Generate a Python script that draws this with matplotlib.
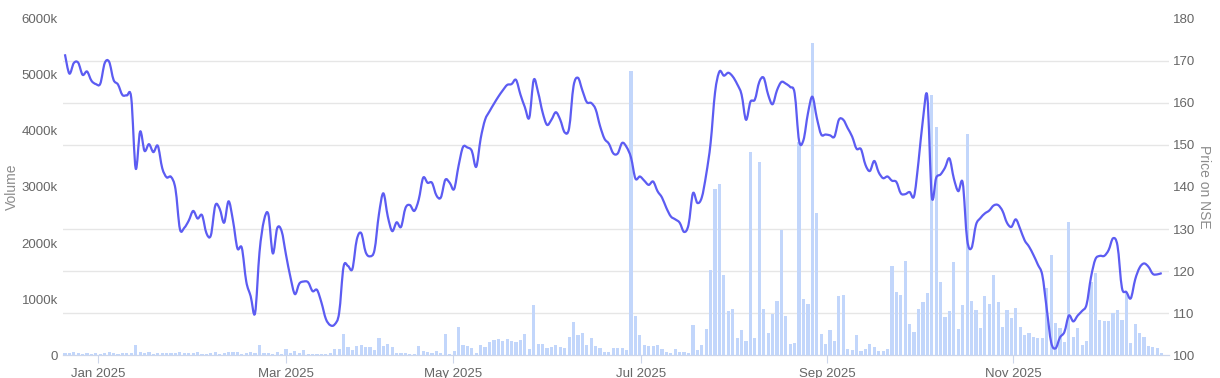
import matplotlib.pyplot as plt
import numpy as np
from matplotlib.path import Path
from matplotlib.patches import PathPatch

# daily price on NSE (one value per trading day, Dec 2024 - Dec 2025)
price = [
    171.6, 167.0, 169.5, 169.6, 166.7, 167.5, 165.3, 164.5, 164.6, 169.5,
    169.8, 165.5, 164.4, 161.9, 161.8, 161.2, 144.4, 153.2, 148.6, 150.2,
    148.3, 149.8, 144.5, 142.3, 142.4, 139.5, 130.0, 130.3, 132.0, 134.3,
    132.5, 133.3,
    129.0, 128.5, 135.6, 134.8, 131.5, 136.6, 132.0, 125.4, 125.5, 117.5,
    114.0, 110.0, 124.5, 132.0, 133.5, 124.2, 130.2, 129.5, 123.8, 118.5,
    114.5, 117.0, 117.5, 117.3, 115.2, 115.5, 112.5, 108.6, 107.1, 107.3,
    110.0, 121.0, 121.2, 120.5, 127.5, 129.0, 124.5, 123.5, 125.0, 133.5,
    138.5, 133.0, 129.5, 131.6, 130.5, 135.0, 135.7, 134.3, 137.0, 142.2,
    141.0, 141.0, 138.0, 137.5, 141.7, 141.0, 139.5, 145.0, 149.5, 149.4,
    148.6, 144.8, 151.5,
    156.0, 158.0, 159.8, 161.5, 163.0, 164.3, 164.5, 165.5, 162.0, 159.0,
    156.5, 165.5, 162.5, 157.8, 154.8, 156.0, 157.8, 156.0, 153.0, 154.0,
    164.0, 166.0, 163.0, 160.2, 160.0, 158.5, 154.5, 151.5, 150.3, 148.0,
    148.0,
    150.5, 149.5, 147.0, 142.0, 142.5, 141.5, 140.5, 141.3, 139.0, 137.5,
    135.0, 133.0, 132.3, 131.5, 129.3, 131.0, 138.5, 136.2, 137.5, 143.0,
    150.5, 162.5, 167.5, 166.5, 167.2, 166.3, 164.5, 162.0, 156.0, 160.3,
    160.8, 165.0,
    166.0, 162.0, 159.7, 163.0, 165.0, 164.6, 163.8, 162.3, 151.0, 151.2,
    157.5, 161.5, 156.5, 152.5, 152.5, 152.3, 152.0, 156.0, 156.0, 154.0,
    152.0, 149.1, 149.0, 145.3, 143.8, 146.2, 143.5, 142.1, 142.5, 141.5,
    141.2, 138.5,
    138.3, 138.8, 137.8, 146.0, 156.0, 161.5, 137.8, 142.2, 143.0, 144.6,
    146.8, 142.0, 139.0, 141.0, 127.5, 125.5, 131.0, 132.6, 133.7, 134.4,
    135.6, 135.7, 134.3, 131.5, 130.5, 132.3, 130.0, 127.3, 125.8, 123.8,
    121.5,
    119.0, 111.0, 103.0, 101.6, 104.2, 105.5, 109.4, 108.0, 109.4, 110.5,
    112.0, 118.5, 122.8, 123.6, 123.6, 125.0, 127.8, 126.0, 116.0, 115.0,
    113.5, 118.0, 120.8, 121.8, 121.0, 119.3, 119.2, 119.5,
]

# daily volume in thousands
volume = [
    30, 42, 54, 30, 24, 30, 24, 30, 24, 30,
    54, 42, 18, 42, 30, 30, 179, 54, 42, 48,
    18, 42, 30, 30, 42, 30, 48, 30, 42, 42,
    48, 12, 18, 30, 48, 18, 30, 48, 48, 60,
    18, 42, 48, 42, 179, 30, 30, 18, 60, 18,
    101, 30, 71, 42, 89, 18, 18, 12, 18, 18,
    30, 101, 101, 369, 149, 89, 161, 179, 149, 149,
    89, 298, 161, 196, 137, 30,
    42, 42, 18, 18, 167, 71, 60, 42, 71, 42,
    375, 18, 77, 506, 173, 167, 125, 30, 173, 137,
    226, 268, 286, 256, 280, 256, 238, 268, 375, 101,
    893, 196, 196, 125, 149, 179, 149, 131, 327, 589,
    357, 399, 179, 310, 161, 119, 48, 48, 119, 119,
    119, 89, 5071, 696, 357, 179, 167, 167, 185, 101,
    60, 42, 101, 54, 54, 42, 536, 89, 173, 458,
    1518, 2964, 3053, 1429, 792, 815, 298, 446, 250, 3625,
    298, 3452, 827, 387, 732, 958, 2232, 696, 196, 220,
    3809, 994, 905, 5565, 2530,
    375, 196, 446, 256, 1054, 1077, 101, 89, 357, 77,
    107, 190, 137, 71, 71, 101, 1589, 1125, 1071, 1678,
    554, 417, 815, 946, 1101, 4643, 4077, 1298, 673, 792,
    1667, 458, 893, 3940, 970, 804, 488, 1054, 905, 1423,
    946, 506, 804, 667, 833, 494, 357, 387, 327, 298,
    310, 1190, 1786, 565, 476, 238, 2381, 327, 476, 179,
    256, 1310, 1458, 625, 607, 607, 744, 804, 625, 1131,
    208, 554, 399, 315, 167, 137, 131, 30,
]

month_labels = ['Jan 2025', 'Mar 2025', 'May 2025', 'Jul 2025', 'Sep 2025', 'Nov 2025']
month_pos = [7.5, 50.0, 87.8, 130.3, 172.3, 214.4]  # trading-day index of month start

plt.rcParams['font.family'] = ['Liberation Sans', 'DejaVu Sans']

x = np.arange(len(price))
y = np.array(price)

fig = plt.figure(figsize=(12.2, 3.78), dpi=100)
ax1 = fig.add_axes([0.0514, 0.0608, 0.907, 0.889])
ax2 = ax1.twinx()

# volume bars
ax1.bar(x, volume, width=0.72, color='#c2d6fb', zorder=2)
ax1.set_ylim(0, 6000)
ax1.set_xlim(-0.5, 249.7)
ax1.set_yticks(np.arange(0, 6001, 1000))
ax1.set_yticklabels(['0'] + ['%dk' % v for v in range(1000, 6001, 1000)])
ax1.set_yticks(np.arange(0, 6001, 750), minor=True)
ax1.yaxis.grid(True, which='minor', color='#e6e6e6', linewidth=1)
ax1.set_axisbelow(True)
ax1.tick_params(axis='y', which='both', length=0, labelsize=9.5, labelcolor='#666666')
ax1.set_ylabel('Volume', fontsize=10, color='#8c8c8c', va='center', ha='center')
ax1.yaxis.set_label_coords(-0.0455, 0.5)

ax1.set_xticks(month_pos)
ax1.set_xticklabels(month_labels)
ax1.tick_params(axis='x', length=6, color='#ccd6eb', labelsize=9.5, labelcolor='#666666', pad=3)

# price line, drawn as a smooth spline through the daily points (bezier segments)
verts = [(x[0], y[0])]
codes = [Path.MOVETO]
for i in range(len(x) - 1):
    i0 = max(i - 1, 0)
    i3 = min(i + 2, len(x) - 1)
    c1 = (x[i] + (x[i + 1] - x[i0]) / 6, y[i] + (y[i + 1] - y[i0]) / 6)
    c2 = (x[i + 1] - (x[i3] - x[i]) / 6, y[i + 1] - (y[i3] - y[i]) / 6)
    verts += [c1, c2, (x[i + 1], y[i + 1])]
    codes += [Path.CURVE4] * 3
ax2.add_patch(PathPatch(Path(verts, codes), fill=False, edgecolor='#5c5cf2',
                        linewidth=1.6, joinstyle='round', zorder=3))
ax2.set_ylim(100, 180)
ax2.set_yticks(np.arange(100, 181, 10))
ax2.tick_params(axis='y', length=0, labelsize=9.5, labelcolor='#666666', pad=3)
ax2.set_ylabel('Price on NSE', fontsize=10, color='#8c8c8c', rotation=270,
               va='center', ha='center')
ax2.yaxis.set_label_coords(1.0315, 0.5)

for ax in (ax1, ax2):
    for side in ('top', 'left', 'right'):
        ax.spines[side].set_visible(False)
    ax.spines['bottom'].set_color('#ccd6eb')

fig.savefig('out.png', dpi=100)
